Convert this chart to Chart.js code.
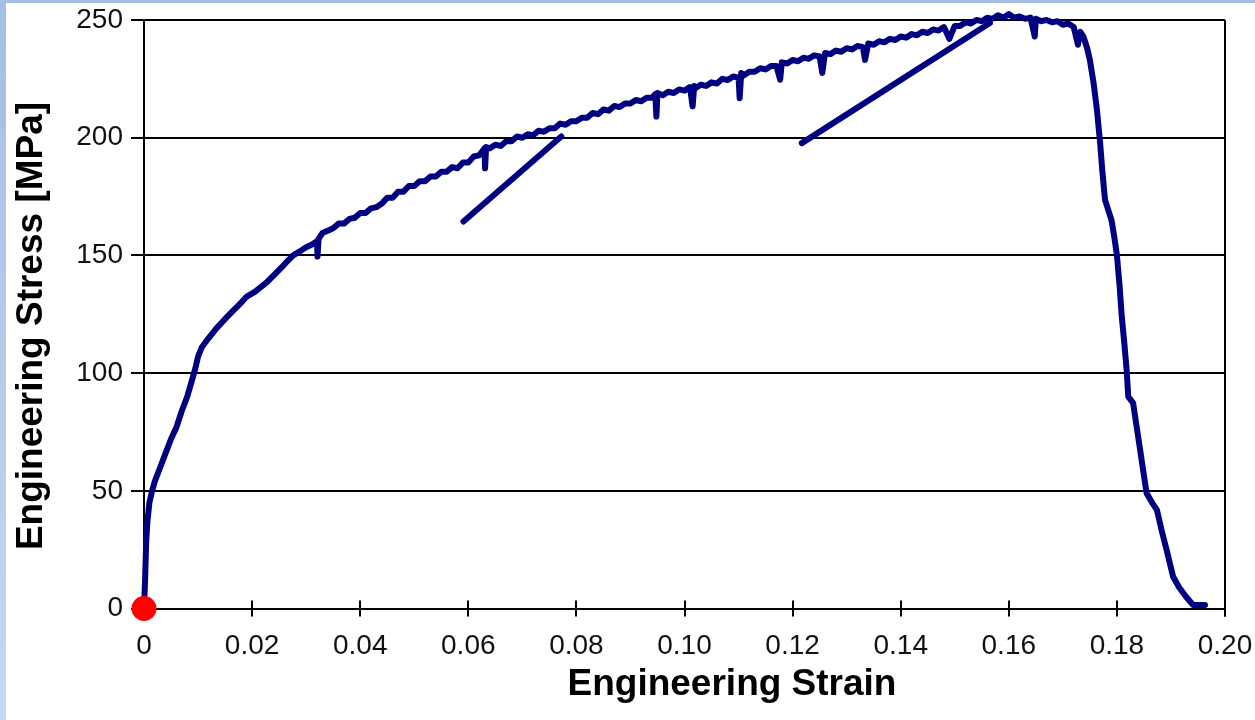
<!DOCTYPE html>
<html>
<head>
<meta charset="utf-8">
<script src="https://cdn.jsdelivr.net/npm/chart.js@4"></script>
<style>
  body { margin: 0; background: #fff; }
  #wrap { position: relative; width: 1255px; height: 720px; overflow: hidden; }
  #topbar { position: absolute; left: 0; top: 0; width: 1255px; height: 3px; background: #a6bee6; z-index: 2; }
  #leftbar { position: absolute; left: 0; top: 0; width: 6px; height: 720px; background: linear-gradient(#a6bee6, #c8d7f0); z-index: 2; }
  canvas { position: absolute; left: 0; top: 0; }
</style>
</head>
<body>
<div id="wrap">
  <div id="topbar"></div>
  <div id="leftbar"></div>
  <canvas id="chart" width="1255" height="720"></canvas>
</div>
<script>
// tensile test curve (noisy between ~0.03 and 0.173)
const strain = [
  0, 0.0002, 0.0004, 0.0006, 0.001, 0.0015, 0.002, 0.003, 0.004, 0.005,
  0.006, 0.007, 0.008, 0.009, 0.0095, 0.010, 0.0107, 0.012, 0.0134, 0.015,
  0.0165, 0.0178, 0.019, 0.0205, 0.0227, 0.024, 0.0255, 0.0265, 0.0276, 0.029,
  0.030, 0.031, 0.032, 0.0321, 0.0323,
  0.033, 0.034, 0.035, 0.036, 0.037, 0.038, 0.039, 0.040, 0.041, 0.042,
  0.043, 0.044, 0.045, 0.046, 0.047, 0.048, 0.049, 0.050, 0.051, 0.052,
  0.053, 0.054, 0.055, 0.056, 0.057, 0.058, 0.059, 0.060, 0.061, 0.062,
  0.063, 0.0631, 0.0633, 0.064, 0.065, 0.066, 0.067, 0.068, 0.069, 0.070,
  0.071, 0.072, 0.073, 0.074, 0.075, 0.076, 0.077, 0.078, 0.079, 0.080,
  0.081, 0.082, 0.083, 0.084, 0.085, 0.086, 0.087, 0.088, 0.089, 0.090,
  0.091, 0.092, 0.093, 0.094, 0.0946, 0.0948, 0.095, 0.096, 0.097, 0.098,
  0.099, 0.100, 0.101, 0.1015, 0.1018, 0.102, 0.103, 0.104, 0.105, 0.106,
  0.107, 0.108, 0.109, 0.110, 0.1102, 0.1105, 0.111, 0.112, 0.113, 0.114,
  0.115, 0.116, 0.117, 0.1177, 0.118, 0.119, 0.120, 0.121, 0.122, 0.123,
  0.124, 0.125, 0.1255, 0.126, 0.127, 0.128, 0.129, 0.130, 0.131, 0.132,
  0.133, 0.1334, 0.134, 0.135, 0.136, 0.137, 0.138, 0.139, 0.140, 0.141,
  0.142, 0.143, 0.144, 0.145, 0.146, 0.147, 0.148, 0.149, 0.150, 0.151,
  0.152, 0.153, 0.154, 0.155, 0.156, 0.157, 0.158, 0.159, 0.160, 0.161,
  0.162, 0.163, 0.164, 0.1648, 0.165, 0.166, 0.167, 0.168, 0.169, 0.170,
  0.171, 0.172, 0.1728, 0.1732, 0.1738, 0.1745, 0.175, 0.1757, 0.1763,
  0.1769, 0.1773, 0.1778, 0.179, 0.1795, 0.180, 0.1805, 0.1809, 0.1814, 0.1818,
  0.1821, 0.183, 0.1836, 0.1843, 0.1849, 0.1855, 0.1865, 0.1874, 0.1883, 0.1892,
  0.1904, 0.1915, 0.1928, 0.1941, 0.1963
];
const stress = [
  0, 12, 28, 36, 45, 50, 54, 60, 66, 72,
  77, 84, 90, 98, 102, 107, 111, 115, 119, 123,
  126.5, 129.5, 132.5, 134.5, 138.5, 141.5, 145, 147.5, 150, 152,
  153.5, 154.5, 156, 149.5, 157,
  159.5, 160.5, 161.5, 163.5, 163.5, 165.5, 166, 168, 168, 170,
  170.5, 172, 174.5, 174.5, 177, 177, 179.5, 179.5, 181.5, 181.5,
  183.5, 183.5, 185.5, 185.5, 187.5, 187, 189.5, 189.5, 192, 192.5,
  195.5, 187, 196, 195.5, 197, 196.5, 198.5, 198.5, 200.5, 200,
  201.5, 201, 203, 202.5, 204, 204, 206, 205.5, 207, 207,
  208.5, 208.5, 210.5, 210, 212, 211.5, 213.5, 213, 214.5, 214.5,
  216, 215.5, 217, 217, 218.5, 209, 219, 218, 219.5, 219,
  220.5, 220, 221.5, 213.3, 222, 221, 222.5, 222, 223.5, 223,
  225, 224.5, 226, 225.5, 216.8, 227.5, 226.5, 228, 228, 229.5,
  229, 230.5, 230.5, 224.6, 232, 231.5, 233, 232.5, 234, 233.5,
  235, 234.5, 227.5, 236, 235.5, 237, 236.5, 238, 237.5, 239,
  238.5, 233, 240, 239.5, 241, 240.5, 242, 241.5, 243, 242.5,
  244, 243.5, 245, 244.5, 246, 245.5, 247, 242, 247.5, 247.5,
  249, 248.5, 250, 249.5, 251, 250.5, 252, 251, 252.5, 251,
  251.5, 250.5, 251, 243, 250.5, 249.5, 250, 249, 249.5, 248,
  248.5, 247, 239.5, 245, 243, 238, 233, 223, 212,
  197.7, 186, 173.6, 165, 158, 150.2, 137, 124, 112, 101.4,
  90, 87.3, 78, 67.4, 58, 49, 45, 41.9, 33, 24.9,
  13.5, 9, 5, 1.5, 1.5
];
// two unloading lines
const unload1Strain = [0.0591, 0.0772];
const unload1Stress = [164.4, 200.5];
const unload2Strain = [0.1217, 0.1565];
const unload2Stress = [197.7, 248.7];
// origin marker
const originStrain = [0];
const originStress = [0];

const xTicks = [0, 0.02, 0.04, 0.06, 0.08, 0.10, 0.12, 0.14, 0.16, 0.18, 0.20];
const yTicks = [0, 50, 100, 150, 200, 250];

const toPoints = (xs, ys) => xs.map((x, i) => ({ x: x, y: ys[i] }));

const FONT = '"Liberation Sans", Arial, sans-serif';
const navy = '#000080';

const lineStyle = {
  type: 'line',
  borderColor: navy,
  borderWidth: 6,
  pointRadius: 0,
  tension: 0,
  borderJoinStyle: 'round',
  borderCapStyle: 'round',
  fill: false,
  clip: false,
};

// right frame, inner half of the x ticks and the two axis titles
const framePlugin = {
  id: 'frame',
  beforeDatasetsDraw(chart) {
    const { ctx, chartArea: a, scales } = chart;
    ctx.save();
    ctx.strokeStyle = '#000';
    ctx.lineWidth = 2;
    ctx.beginPath();
    ctx.moveTo(a.right, a.top);
    ctx.lineTo(a.right, a.bottom + 8);
    xTicks.slice(1, -1).forEach(t => {
      const px = Math.round(scales.x.getPixelForValue(t));
      ctx.moveTo(px, a.bottom - 8);
      ctx.lineTo(px, a.bottom);
    });
    ctx.stroke();
    ctx.restore();
  },
  afterDraw(chart) {
    const { ctx } = chart;
    ctx.save();
    ctx.fillStyle = '#000';
    ctx.font = 'bold 37px ' + FONT;
    ctx.textAlign = 'center';
    ctx.textBaseline = 'alphabetic';
    ctx.fillText('Engineering Strain', 732, 695);
    ctx.translate(42, 326);
    ctx.rotate(-Math.PI / 2);
    ctx.fillText('Engineering Stress [MPa]', 0, 0);
    ctx.restore();
  }
};

new Chart(document.getElementById('chart'), {
  type: 'line',
  data: {
    datasets: [
      Object.assign({ data: toPoints(strain, stress) }, lineStyle),
      Object.assign({ data: toPoints(unload1Strain, unload1Stress) }, lineStyle),
      Object.assign({ data: toPoints(unload2Strain, unload2Stress) }, lineStyle),
      {
        type: 'scatter',
        data: toPoints(originStrain, originStress),
        order: -1, // draw the red dot on top of the curve
        pointRadius: 12.5,
        pointBackgroundColor: '#ff0000',
        pointBorderWidth: 0,
        clip: false,
      },
    ],
  },
  plugins: [framePlugin],
  options: {
    responsive: false,
    animation: false,
    layout: { padding: { top: 20, right: 30, left: 0, bottom: 0 } },
    plugins: {
      legend: { display: false },
      tooltip: { enabled: false },
    },
    scales: {
      x: {
        type: 'linear',
        min: 0,
        max: 0.2,
        afterBuildTicks: (s) => { s.ticks = xTicks.map(v => ({ value: v })); },
        afterFit: (s) => { s.height = 111.5; s.paddingLeft = 0; s.paddingRight = 0; },
        ticks: {
          color: '#111',
          font: { family: FONT, size: 28 },
          padding: 13,
          maxRotation: 0,
          callback: (v) => v === 0 ? '0' : v.toFixed(2),
        },
        grid: { drawOnChartArea: false, color: '#000', lineWidth: 2, tickLength: 8 },
        border: { color: '#000', width: 2 },
      },
      y: {
        min: 0,
        max: 250,
        afterBuildTicks: (s) => { s.ticks = yTicks.map(v => ({ value: v })); },
        afterFit: (s) => { s.width = 144; s.paddingTop = 0; s.paddingBottom = 0; },
        ticks: {
          color: '#111',
          font: { family: FONT, size: 28 },
          padding: 8,
        },
        grid: { color: '#000', lineWidth: 2, tickLength: 13 },
        border: { color: '#000', width: 2 },
      },
    },
  },
});
</script>
</body>
</html>
